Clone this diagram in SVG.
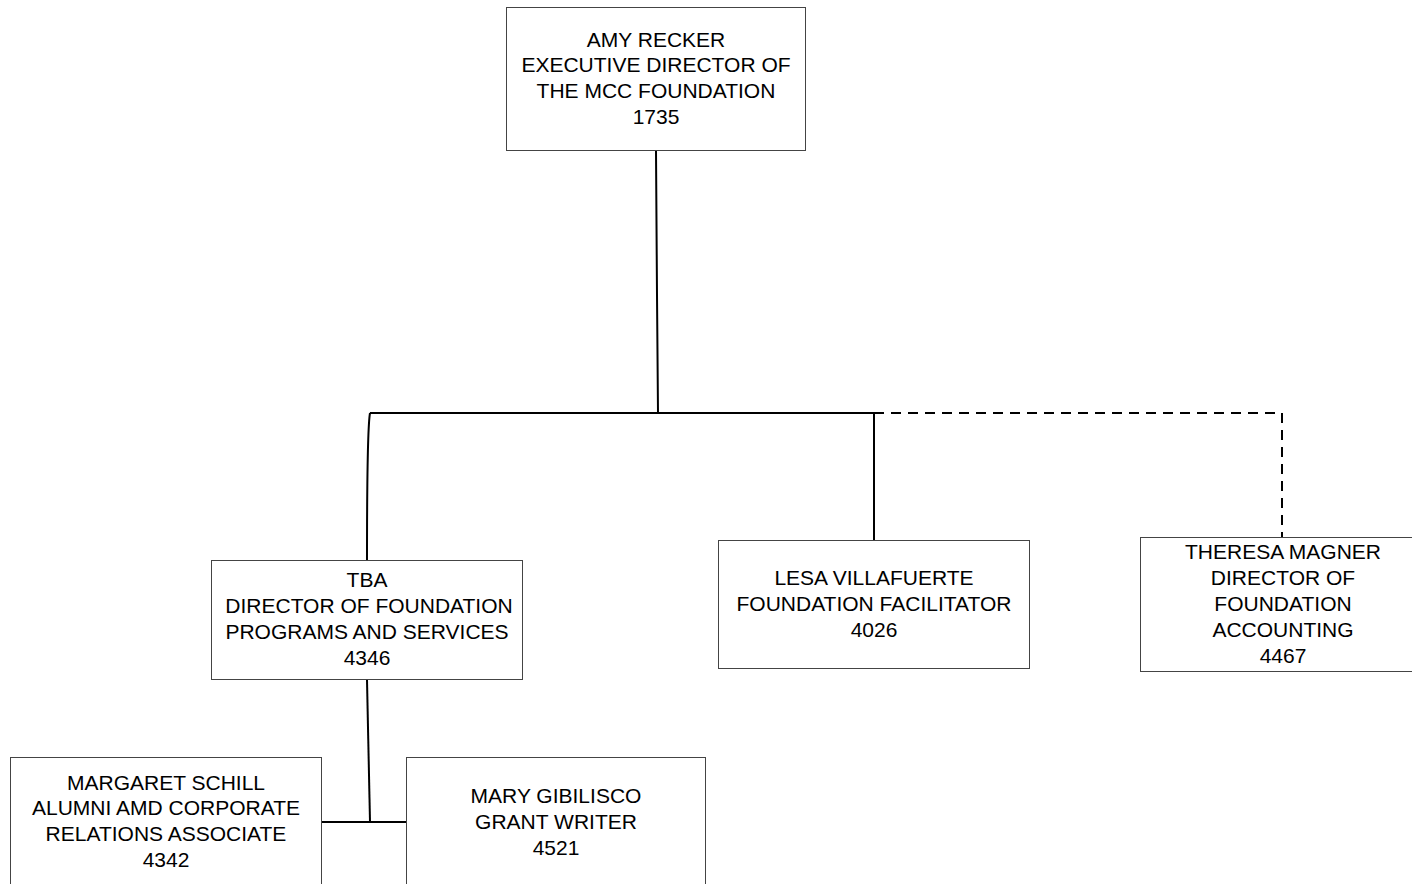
<svg xmlns="http://www.w3.org/2000/svg" width="1412" height="884" viewBox="0 0 1412 884">
<style>
.box{fill:#fff;stroke:#444;stroke-width:1}
.t{font-family:"Liberation Sans",Arial,sans-serif;font-size:21px;fill:#000;text-anchor:middle}
.c{fill:none;stroke:#000;stroke-width:2}
.d{fill:none;stroke:#000;stroke-width:2;stroke-dasharray:10,7}
</style>
<rect width="1412" height="884" fill="#fff"/>
<g id="connectors">
<path class="c" d="M656,151 L657,295 L658,413"/>
<path class="c" d="M370,413 L874,413"/>
<path class="d" d="M874,413 L1282,413 L1282,537"/>
<path class="c" d="M370,413 Q367,430 367,560"/>
<path class="c" d="M874,413 L874,540"/>
<path class="c" d="M367,680 L370,822"/>
<path class="c" d="M322,822 L406,822"/>
</g>
<g id="amy">
<rect class="box" x="506.5" y="7.5" width="299" height="143"/>
<text class="t" x="656" y="47">AMY RECKER</text>
<text class="t" x="656" y="72">EXECUTIVE DIRECTOR OF</text>
<text class="t" x="656" y="98">THE MCC FOUNDATION</text>
<text class="t" x="656" y="124">1735</text>
</g>
<g id="tba">
<rect class="box" x="211.5" y="560.5" width="311" height="119"/>
<text class="t" x="367" y="587">TBA</text>
<text class="t" x="369" y="613">DIRECTOR OF FOUNDATION</text>
<text class="t" x="367" y="639">PROGRAMS AND SERVICES</text>
<text class="t" x="367" y="665">4346</text>
</g>
<g id="lesa">
<rect class="box" x="718.5" y="540.5" width="311" height="128"/>
<text class="t" x="874" y="585">LESA VILLAFUERTE</text>
<text class="t" x="874" y="611">FOUNDATION FACILITATOR</text>
<text class="t" x="874" y="637">4026</text>
</g>
<g id="theresa">
<rect class="box" x="1140.5" y="537.5" width="280" height="134"/>
<text class="t" x="1283" y="559">THERESA MAGNER</text>
<text class="t" x="1283" y="585">DIRECTOR OF</text>
<text class="t" x="1283" y="611">FOUNDATION</text>
<text class="t" x="1283" y="637">ACCOUNTING</text>
<text class="t" x="1283" y="663">4467</text>
</g>
<g id="margaret">
<rect class="box" x="10.5" y="757.5" width="311" height="140"/>
<text class="t" x="166" y="790">MARGARET SCHILL</text>
<text class="t" x="166" y="815">ALUMNI AMD CORPORATE</text>
<text class="t" x="166" y="841">RELATIONS ASSOCIATE</text>
<text class="t" x="166" y="867">4342</text>
</g>
<g id="mary">
<rect class="box" x="406.5" y="757.5" width="299" height="140"/>
<text class="t" x="556" y="803">MARY GIBILISCO</text>
<text class="t" x="556" y="829">GRANT WRITER</text>
<text class="t" x="556" y="855">4521</text>
</g>
</svg>
